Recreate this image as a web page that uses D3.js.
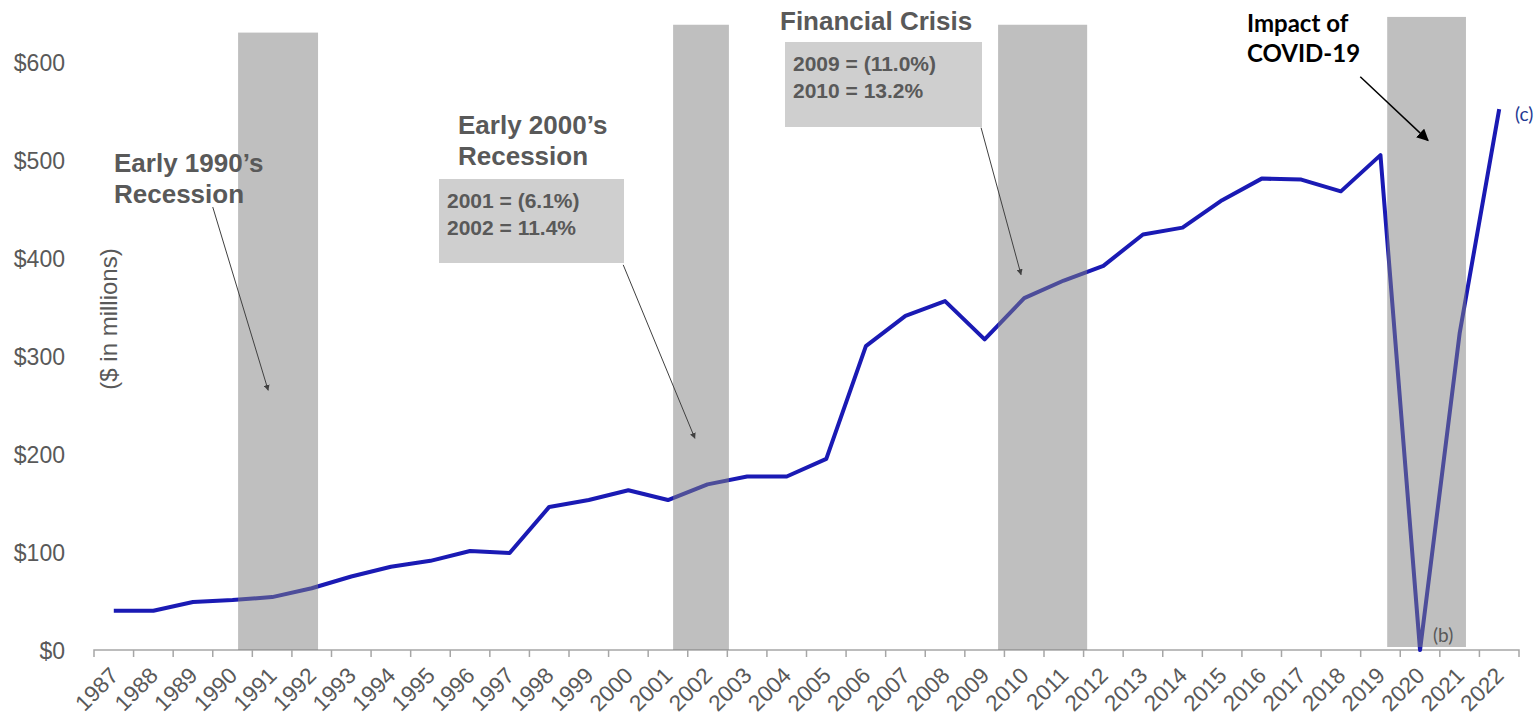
<!doctype html>
<html lang="en">
<head>
  <meta charset="utf-8">
  <title>Revenue 1987-2022</title>
  <style>
    body { margin: 0; background: #fff; }
    svg { display: block; font-family: "Liberation Sans", Arial, sans-serif; }
    .tick text { fill: #595959; font-family: "Liberation Sans", Arial, sans-serif; }
  </style>
</head>
<body>
  <div id="chart"></div>
  <script src="https://cdn.jsdelivr.net/npm/d3@7"></script>
  <script>
  (function(){

    // values in $ millions
    var years = d3.range(1987, 2023);
    var values = [40, 40, 49, 51, 54, 63, 75, 85, 91, 101, 99, 146, 153, 163, 153, 169,
                  177, 177, 195, 310, 341, 356, 317, 359, 377, 392, 424, 431, 459, 481,
                  480, 468, 505, 0, 323, 552];
    var yTicks = [0, 100, 200, 300, 400, 500, 600];

    // shaded periods: [start, end, top value] on the year axis (year Y band starts at Y)
    var recessions = [[1990.64, 1992.66, 630], [2001.63, 2003.04, 638],
                      [2009.84, 2012.09, 638], [2019.67, 2021.66, 646]];

    var width = 1537, height = 717;
    var x0 = 94, x1 = 1519, yBase = 650, yTop = 62;

    var svg = d3.select("#chart").append("svg")
        .attr("width", width).attr("height", height);

    var x = d3.scaleBand().domain(years).range([x0, x1]).padding(0);
    var xr = d3.scaleLinear().domain([1987, 2023]).range([x0, x1]);
    var y = d3.scaleLinear().domain([0, 600]).range([yBase, yTop]);

    // arrow heads
    var defs = svg.append("defs");
    defs.append("marker").attr("id", "headGray")
        .attr("viewBox", "0 0 10 10").attr("refX", 9).attr("refY", 5)
        .attr("markerWidth", 6).attr("markerHeight", 6).attr("orient", "auto")
      .append("path").attr("d", "M0,0L10,5L0,10z").attr("fill", "#404040");
    defs.append("marker").attr("id", "headBlack")
        .attr("viewBox", "0 0 10 10").attr("refX", 9).attr("refY", 5)
        .attr("markerWidth", 8).attr("markerHeight", 8).attr("orient", "auto")
      .append("path").attr("d", "M0,0L10,5L0,10z").attr("fill", "#000");

    // y axis labels only
    var yAxis = svg.append("g").attr("transform", "translate(65,0)")
        .call(d3.axisLeft(y).tickValues(yTicks).tickSize(0).tickPadding(0)
          .tickFormat(function(d){ return "$" + d; }));
    yAxis.select(".domain").remove();
    yAxis.selectAll("text").attr("font-size", 23).attr("dy", "0.35em");

    // x axis
    var xAxis = svg.append("g").attr("transform", "translate(0," + yBase + ")")
        .call(d3.axisBottom(x).tickSize(0));
    xAxis.select(".domain").attr("stroke", "#a6a6a6").attr("stroke-width", 1.5)
        .attr("d", "M" + x0 + ",7V0H" + x1 + "V7");
    xAxis.selectAll(".tick line").remove();
    xAxis.selectAll(".bound").data(years.slice(1)).enter().append("line")
        .attr("x1", function(d){ return x(d); }).attr("x2", function(d){ return x(d); })
        .attr("y1", 0).attr("y2", 7).attr("stroke", "#a6a6a6").attr("stroke-width", 1.5);
    xAxis.selectAll(".tick text")
        .attr("font-size", 22.5)
        .attr("text-anchor", "end")
        .attr("y", 0)
        .attr("dy", 0)
        .attr("transform", "translate(6,27) rotate(-45)");

    // line
    var line = d3.line()
        .x(function(d, i){ return x(years[i]) + x.bandwidth() / 2; })
        .y(function(d){ return y(d); });
    svg.append("path").datum(values)
        .attr("d", line)
        .attr("fill", "none")
        .attr("stroke", "#1a1ab4")
        .attr("stroke-width", 4)
        .attr("stroke-linejoin", "round");

    // shaded recession bars drawn over the line
    svg.selectAll(".rec").data(recessions).enter().append("rect")
        .attr("x", function(d){ return xr(d[0]); })
        .attr("width", function(d){ return xr(d[1]) - xr(d[0]); })
        .attr("y", function(d){ return y(d[2]); })
        .attr("height", function(d, i){ return y(0) - y(d[2]) - (i === 3 ? 3 : 0); })
        .attr("fill", "#808080")
        .attr("opacity", 0.5);

    // note boxes
    var boxes = [
      {x: 439, y: 179, w: 185, h: 84, lines: ["2001 = (6.1%)", "2002 = 11.4%"]},
      {x: 785, y: 42, w: 197, h: 85, lines: ["2009 = (11.0%)", "2010 = 13.2%"]}
    ];
    boxes.forEach(function(b){
      svg.append("rect").attr("x", b.x).attr("y", b.y).attr("width", b.w).attr("height", b.h)
          .attr("fill", "#cfcfcf");
      b.lines.forEach(function(t, i){
        svg.append("text").attr("x", b.x + 8).attr("y", b.y + 29 + i * 27)
            .attr("font-size", 21).attr("font-weight", "bold").attr("fill", "#595959").text(t);
      });
    });

    // titles
    var titles = [
      {x: 114, y: 172, lines: ["Early 1990\u2019s", "Recession"]},
      {x: 458, y: 134, lines: ["Early 2000\u2019s", "Recession"]},
      {x: 780, y: 30, lines: ["Financial Crisis"]}
    ];
    titles.forEach(function(t){
      t.lines.forEach(function(s, i){
        svg.append("text").attr("x", t.x).attr("y", t.y + i * 31)
            .attr("font-size", 26).attr("font-weight", "bold").attr("fill", "#595959").text(s);
      });
    });
    ["Impact of", "COVID-19"].forEach(function(s, i){
      svg.append("text").attr("x", 1247).attr("y", 32 + i * 30)
          .attr("font-family", "Lato, 'Open Sans', sans-serif")
          .attr("font-size", 24).attr("font-weight", "bold").attr("fill", "#000").text(s);
    });

    // arrows, in data units: [x1, y1, x2, y2]
    var arrows = [
      [1990.0, 452, 1991.4, 265, "gray"],
      [2000.37, 393, 2002.18, 216, "gray"],
      [2009.41, 533, 2010.42, 383, "gray"],
      [2018.99, 585, 2020.7, 520, "black"]
    ];
    svg.selectAll(".arrow").data(arrows).enter().append("line")
        .attr("x1", function(d){ return xr(d[0]); }).attr("y1", function(d){ return y(d[1]); })
        .attr("x2", function(d){ return xr(d[2]); }).attr("y2", function(d){ return y(d[3]); })
        .attr("stroke", function(d){ return d[4] === "gray" ? "#404040" : "#000"; })
        .attr("stroke-width", function(d){ return d[4] === "gray" ? 1 : 1.5; })
        .attr("marker-end", function(d){ return d[4] === "gray" ? "url(#headGray)" : "url(#headBlack)"; });

    // y axis title
    svg.append("text")
        .attr("transform", "translate(117,319) rotate(-90)")
        .attr("text-anchor", "middle")
        .attr("font-size", 24).attr("fill", "#595959")
        .text("($ in millions)");

    // footnote markers
    svg.append("text").attr("x", 1515).attr("y", 121)
        .attr("font-family", "Lato, 'Open Sans', sans-serif")
        .attr("font-size", 19).attr("fill", "#1f3a93").text("(c)");
    svg.append("text").attr("x", 1433).attr("y", 642)
        .attr("font-family", "Lato, 'Open Sans', sans-serif")
        .attr("font-size", 19).attr("fill", "#595959").text("(b)");

  })();
  </script>
</body>
</html>
